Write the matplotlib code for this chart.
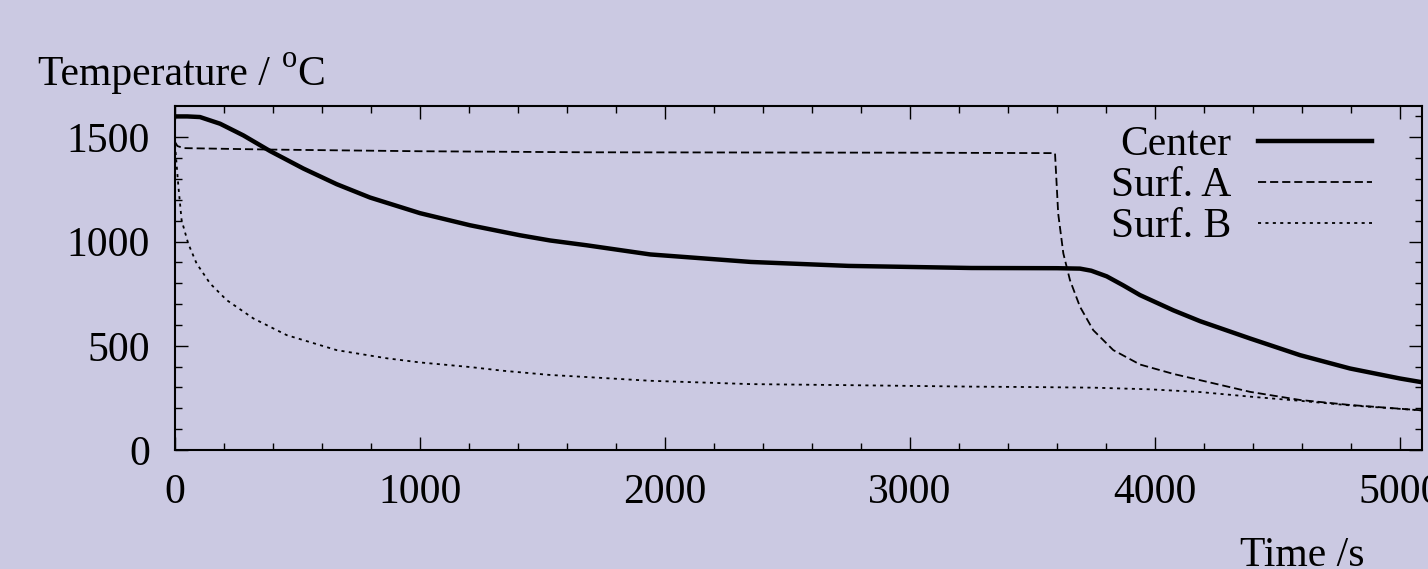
import numpy as np
import matplotlib.pyplot as plt
from matplotlib.ticker import MultipleLocator

# data
center_t = [0, 50, 102, 184, 279, 388, 524, 660, 796, 1000, 1204, 1408, 1531, 1680, 1940,
            2350, 2750, 3250, 3600, 3694, 3740, 3803, 3870, 3939, 4075, 4184, 4388, 4592,
            4796, 5000, 5090]
center_T = [1600, 1600, 1597, 1565, 1509, 1434, 1350, 1275, 1211, 1136, 1078, 1030, 1005, 982, 938,
            902, 883, 873, 872, 870, 860, 833, 790, 743, 670, 618, 535, 455,
            391, 343, 325]

surfA_t = [0, 10, 34, 388, 1000, 1680, 3000, 3592, 3605, 3626, 3653, 3694, 3748, 3830,
           3939, 4075, 4184, 4388, 4592, 4796, 5090]
surfA_T = [1477, 1458, 1448, 1441, 1433, 1428, 1426, 1424, 1134, 943, 815, 687, 575, 479,
           410, 365, 335, 279, 240, 216, 190]

surfB_t = [0, 14, 27, 54, 88, 143, 211, 320, 456, 660, 864, 1000, 1204, 1340, 1530, 1680,
           1940, 2350, 2750, 3250, 3490, 3750, 3980, 4184, 4388, 4592, 4796, 5090]
surfB_T = [1465, 1262, 1102, 990, 895, 799, 719, 631, 551, 479, 440, 420, 398, 380, 360, 350,
           332, 316, 311, 304, 302, 299, 291, 278, 256, 236, 214, 190]

bg = '#cbc9e2'
fs = 30
plt.rcParams['font.family'] = 'Liberation Serif'

fig = plt.figure(figsize=(14.28, 5.69), dpi=100, facecolor=bg)
ax = fig.add_axes([175/1428, 119/569, 1247/1428, 344/569], facecolor=bg)

ax.plot(center_t, center_T, color='black', lw=3.2, label='Center')
ax.plot(surfA_t, surfA_T, color='black', lw=1.3, dashes=(4.5, 2.2), label='Surf. A')
ax.plot(surfB_t, surfB_T, color='black', lw=1.3, dashes=(1.7, 2.4), label='Surf. B')

ax.set_xlim(0, 5090)
ax.set_ylim(0, 1650)
ax.xaxis.set_major_locator(MultipleLocator(1000))
ax.xaxis.set_minor_locator(MultipleLocator(200))
ax.yaxis.set_major_locator(MultipleLocator(500))
ax.yaxis.set_minor_locator(MultipleLocator(100))
ax.tick_params(which='both', direction='in', top=True, right=True, width=1.0, labelsize=fs)
ax.tick_params(which='major', length=9.5)
ax.tick_params(which='minor', length=5)
ax.tick_params(axis='x', pad=17)
ax.tick_params(axis='y', pad=18)
for s in ax.spines.values():
    s.set_linewidth(1.5)

leg = ax.legend(loc='upper right', bbox_to_anchor=(0.960, 0.942), frameon=False,
                markerfirst=False, fontsize=fs, handlelength=2.74, handletextpad=0.63,
                labelspacing=0.06, borderpad=0, borderaxespad=0)

# y label with a raised "o" for degrees
fig.text(38/1428, 484/569, 'Temperature /', fontsize=fs, va='baseline', ha='left')
fig.text(282/1428, 502/569, 'o', fontsize=22, va='baseline', ha='left')
fig.text(297/1428, 484/569, 'C', fontsize=fs, va='baseline', ha='left')
fig.text(1302/1428, 3/569, 'Time /s', fontsize=fs, va='baseline', ha='center')

plt.savefig('out.png', dpi=100, facecolor=bg)
